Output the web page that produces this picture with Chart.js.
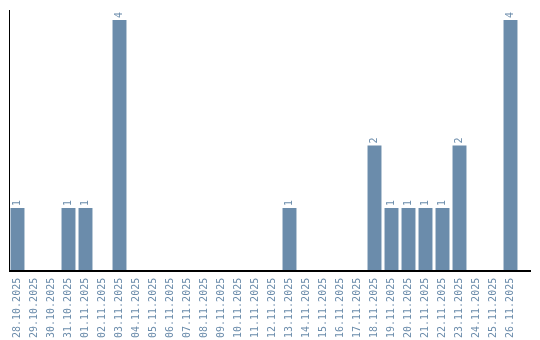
<!DOCTYPE html>
<html>
<head>
<meta charset="utf-8">
<script src="https://cdn.jsdelivr.net/npm/chart.js@4"></script>
<style>
  html, body { margin: 0; padding: 0; background: #fff; }
  #wrap { width: 540px; height: 340px; }
</style>
</head>
<body>
<div id="wrap"><canvas id="myChart"></canvas></div>
<script>
// days shown on the x axis
var labels = ["28.10.2025", "29.10.2025", "30.10.2025", "31.10.2025", "01.11.2025",
  "02.11.2025", "03.11.2025", "04.11.2025", "05.11.2025", "06.11.2025",
  "07.11.2025", "08.11.2025", "09.11.2025", "10.11.2025", "11.11.2025",
  "12.11.2025", "13.11.2025", "14.11.2025", "15.11.2025", "16.11.2025",
  "17.11.2025", "18.11.2025", "19.11.2025", "20.11.2025", "21.11.2025",
  "22.11.2025", "23.11.2025", "24.11.2025", "25.11.2025", "26.11.2025"];
var counts = [1, 0, 0, 1, 1, 0, 4, 0, 0, 0,
  0, 0, 0, 0, 0, 0, 1, 0, 0, 0,
  0, 2, 1, 1, 1, 1, 2, 0, 0, 4];

var barColor = "#6b8cab";
var textColor = "#6b8cab";

// little plugin: write the value above each bar, turned 90 degrees,
// and let the x axis line run on a bit past the last bar
const valueLabels = {
  id: "valueLabels",
  afterDatasetsDraw(chart) {
    const ctx = chart.ctx;
    const meta = chart.getDatasetMeta(0);
    const area = chart.chartArea;
    const yAxis = Math.round(area.bottom);
    ctx.save();
    ctx.strokeStyle = "#000";
    ctx.lineWidth = 2;
    ctx.beginPath();
    ctx.moveTo(area.left, yAxis);
    ctx.lineTo(531, yAxis);
    ctx.stroke();
    ctx.fillStyle = textColor;
    ctx.font = "10px 'DejaVu Sans Mono'";
    ctx.textAlign = "left";
    ctx.textBaseline = "middle";
    meta.data.forEach((bar, i) => {
      if (!counts[i]) return;
      ctx.save();
      ctx.translate(bar.x, bar.y - 2);
      ctx.rotate(-Math.PI / 2);
      ctx.fillText(String(counts[i]), 0, 0);
      ctx.restore();
    });
    ctx.restore();
  }
};

var ctx = document.getElementById("myChart").getContext("2d");
var myChart = new Chart(ctx, {
  type: "bar",
  data: {
    labels: labels,
    datasets: [{
      data: counts,
      backgroundColor: barColor,
      barPercentage: 0.82,
      categoryPercentage: 1.0
    }]
  },
  options: {
    responsive: true,
    maintainAspectRatio: false,
    animation: false,
    layout: { padding: { left: 9, right: 21, top: 10, bottom: -5 } },
    plugins: { legend: { display: false }, tooltip: { enabled: false } },
    scales: {
      x: {
        grid: { display: false, drawTicks: false },
        border: { display: false },
        ticks: {
          color: textColor,
          font: { family: "DejaVu Sans Mono", size: 10 },
          minRotation: 90,
          maxRotation: 90,
          autoSkip: false,
          padding: 7
        }
      },
      y: {
        min: 0,
        max: 4.16,
        grid: { display: false, drawTicks: false },
        border: { color: "#000", width: 1 },
        ticks: { display: false }
      }
    }
  },
  plugins: [valueLabels]
});
</script>
</body>
</html>
